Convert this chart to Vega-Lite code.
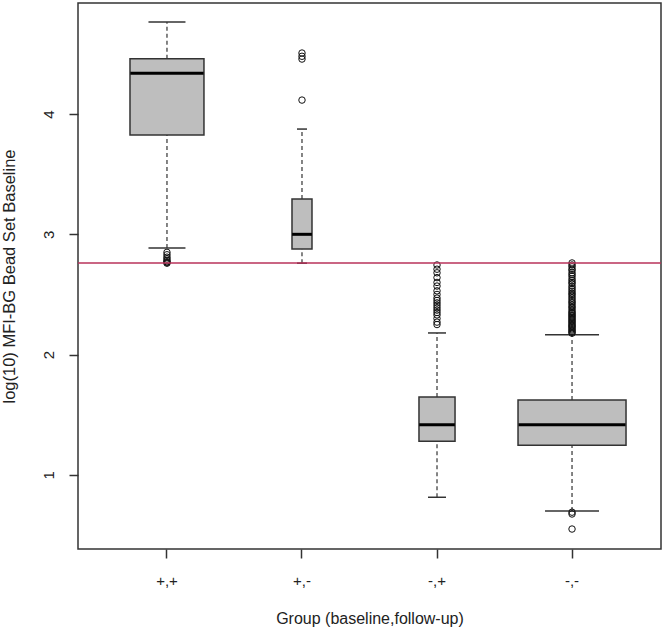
{
  "$schema": "https://vega.github.io/schema/vega-lite/v6.json",
  "width": 583,
  "height": 546,
  "autosize": {"type": "none"},
  "padding": {"left": 78, "top": 3, "right": 5, "bottom": 84},
  "background": "white",
  "config": {
    "view": {"stroke": "#333333", "strokeWidth": 1.5},
    "font": "Liberation Sans",
    "axis": {
      "domain": false,
      "grid": false,
      "tickColor": "#333333",
      "tickWidth": 1.5,
      "tickSize": 9,
      "labelFontSize": 15,
      "labelColor": "#222222",
      "titleFontSize": 16.5,
      "titleFontWeight": "normal",
      "titleColor": "#222222"
    }
  },
  "datasets": {
    "boxes": [
      {"group": "+,+", "lo": 2.886, "q1": 3.825, "median": 4.34, "q3": 4.46, "hi": 4.765, "n": 547},
      {"group": "+,-", "lo": 2.76, "q1": 2.878, "median": 3.0, "q3": 3.293, "hi": 3.875, "n": 40},
      {"group": "-,+", "lo": 0.814, "q1": 1.28, "median": 1.417, "q3": 1.647, "hi": 2.18, "n": 130},
      {"group": "-,-", "lo": 0.70, "q1": 1.246, "median": 1.417, "q3": 1.623, "hi": 2.165, "n": 1166}
    ],
    "outliers": [
      {"group": "+,+", "value": 2.76}, {"group": "+,+", "value": 2.765}, {"group": "+,+", "value": 2.772},
      {"group": "+,+", "value": 2.781}, {"group": "+,+", "value": 2.795}, {"group": "+,+", "value": 2.81},
      {"group": "+,+", "value": 2.83}, {"group": "+,+", "value": 2.85},
      {"group": "+,-", "value": 4.116}, {"group": "+,-", "value": 4.457}, {"group": "+,-", "value": 4.48}, {"group": "+,-", "value": 4.507},
      {"group": "-,+", "value": 2.745}, {"group": "-,+", "value": 2.71}, {"group": "-,+", "value": 2.68},
      {"group": "-,+", "value": 2.64}, {"group": "-,+", "value": 2.6}, {"group": "-,+", "value": 2.57},
      {"group": "-,+", "value": 2.53}, {"group": "-,+", "value": 2.5}, {"group": "-,+", "value": 2.47},
      {"group": "-,+", "value": 2.45}, {"group": "-,+", "value": 2.43}, {"group": "-,+", "value": 2.41},
      {"group": "-,+", "value": 2.39}, {"group": "-,+", "value": 2.37}, {"group": "-,+", "value": 2.35},
      {"group": "-,+", "value": 2.33}, {"group": "-,+", "value": 2.3}, {"group": "-,+", "value": 2.27},
      {"group": "-,+", "value": 2.25},
      {"group": "-,-", "value": 2.762}, {"group": "-,-", "value": 2.745}, {"group": "-,-", "value": 2.73},
      {"group": "-,-", "value": 2.71}, {"group": "-,-", "value": 2.7}, {"group": "-,-", "value": 2.68},
      {"group": "-,-", "value": 2.665}, {"group": "-,-", "value": 2.65}, {"group": "-,-", "value": 2.63},
      {"group": "-,-", "value": 2.615}, {"group": "-,-", "value": 2.6}, {"group": "-,-", "value": 2.59},
      {"group": "-,-", "value": 2.57}, {"group": "-,-", "value": 2.555}, {"group": "-,-", "value": 2.54},
      {"group": "-,-", "value": 2.525}, {"group": "-,-", "value": 2.51}, {"group": "-,-", "value": 2.5},
      {"group": "-,-", "value": 2.485}, {"group": "-,-", "value": 2.47}, {"group": "-,-", "value": 2.455},
      {"group": "-,-", "value": 2.44}, {"group": "-,-", "value": 2.43}, {"group": "-,-", "value": 2.415},
      {"group": "-,-", "value": 2.4}, {"group": "-,-", "value": 2.39}, {"group": "-,-", "value": 2.375},
      {"group": "-,-", "value": 2.36}, {"group": "-,-", "value": 2.35}, {"group": "-,-", "value": 2.34},
      {"group": "-,-", "value": 2.33}, {"group": "-,-", "value": 2.32}, {"group": "-,-", "value": 2.31},
      {"group": "-,-", "value": 2.3}, {"group": "-,-", "value": 2.29}, {"group": "-,-", "value": 2.28},
      {"group": "-,-", "value": 2.27}, {"group": "-,-", "value": 2.26}, {"group": "-,-", "value": 2.25},
      {"group": "-,-", "value": 2.24}, {"group": "-,-", "value": 2.235}, {"group": "-,-", "value": 2.225},
      {"group": "-,-", "value": 2.215}, {"group": "-,-", "value": 2.205}, {"group": "-,-", "value": 2.195},
      {"group": "-,-", "value": 2.185}, {"group": "-,-", "value": 2.178},
      {"group": "-,-", "value": 0.69}, {"group": "-,-", "value": 0.675}, {"group": "-,-", "value": 0.55}
    ],
    "threshold": [{"cutoff": 2.761}]
  },
  "layer": [
    {
      "data": {"name": "boxes"},
      "mark": {"type": "rule", "color": "#333333", "strokeWidth": 1.2, "strokeDash": [4, 3]},
      "encoding": {
        "x": {
          "field": "group",
          "type": "nominal",
          "sort": ["+,+", "+,-", "-,+", "-,-"],
          "scale": {"type": "band", "paddingInner": 0, "paddingOuter": 0.159},
          "title": "Group (baseline,follow-up)",
          "axis": {"labelAngle": 0, "labelPadding": 15, "titlePadding": 22, "titleFontSize": 16}
        },
        "y": {"field": "q3", "type": "quantitative", "scale": {"domain": [0.384, 4.923], "nice": false, "zero": false},
          "title": "log(10) MFI-BG Bead Set Baseline",
          "axis": {"values": [1, 2, 3, 4], "format": "d", "labelAngle": 270, "labelAlign": "center", "labelBaseline": "alphabetic", "labelPadding": 16, "titlePadding": 24}},
        "y2": {"field": "hi"}
      }
    },
    {
      "data": {"name": "boxes"},
      "mark": {"type": "rule", "color": "#333333", "strokeWidth": 1.2, "strokeDash": [4, 3]},
      "encoding": {
        "x": {"field": "group", "type": "nominal", "sort": ["+,+", "+,-", "-,+", "-,-"], "title": "Group (baseline,follow-up)"},
        "y": {"field": "lo", "type": "quantitative", "title": "log(10) MFI-BG Bead Set Baseline"},
        "y2": {"field": "q1"}
      }
    },
    {
      "data": {"name": "boxes"},
      "mark": {"type": "tick", "color": "#333333", "thickness": 1.5, "opacity": 1},
      "encoding": {
        "x": {"field": "group", "type": "nominal", "sort": ["+,+", "+,-", "-,+", "-,-"], "title": "Group (baseline,follow-up)"},
        "y": {"field": "hi", "type": "quantitative", "title": "log(10) MFI-BG Bead Set Baseline"},
        "size": {"field": "n", "type": "quantitative", "scale": {"type": "sqrt", "domain": [0, 1166], "range": [0, 54]}, "legend": null}
      }
    },
    {
      "data": {"name": "boxes"},
      "mark": {"type": "tick", "color": "#333333", "thickness": 1.5, "opacity": 1},
      "encoding": {
        "x": {"field": "group", "type": "nominal", "sort": ["+,+", "+,-", "-,+", "-,-"], "title": "Group (baseline,follow-up)"},
        "y": {"field": "lo", "type": "quantitative", "title": "log(10) MFI-BG Bead Set Baseline"},
        "size": {"field": "n", "type": "quantitative", "scale": {"type": "sqrt", "domain": [0, 1166], "range": [0, 54]}, "legend": null}
      }
    },
    {
      "data": {"name": "boxes"},
      "mark": {"type": "bar", "fill": "#bebebe", "stroke": "#333333", "strokeWidth": 1.5},
      "encoding": {
        "x": {"field": "group", "type": "nominal", "sort": ["+,+", "+,-", "-,+", "-,-"], "title": "Group (baseline,follow-up)"},
        "y": {"field": "q1", "type": "quantitative", "title": "log(10) MFI-BG Bead Set Baseline"},
        "y2": {"field": "q3"},
        "size": {"field": "n", "type": "quantitative", "scale": {"type": "sqrt", "domain": [0, 1166], "range": [0, 108]}, "legend": null}
      }
    },
    {
      "data": {"name": "boxes"},
      "mark": {"type": "tick", "color": "#000000", "thickness": 3, "opacity": 1},
      "encoding": {
        "x": {"field": "group", "type": "nominal", "sort": ["+,+", "+,-", "-,+", "-,-"], "title": "Group (baseline,follow-up)"},
        "y": {"field": "median", "type": "quantitative", "title": "log(10) MFI-BG Bead Set Baseline"},
        "size": {"field": "n", "type": "quantitative", "scale": {"type": "sqrt", "domain": [0, 1166], "range": [0, 107]}, "legend": null}
      }
    },
    {
      "data": {"name": "outliers"},
      "mark": {"type": "point", "shape": "circle", "filled": false, "stroke": "#111111", "strokeWidth": 1, "size": 42, "opacity": 1},
      "encoding": {
        "x": {"field": "group", "type": "nominal", "sort": ["+,+", "+,-", "-,+", "-,-"], "title": "Group (baseline,follow-up)"},
        "y": {"field": "value", "type": "quantitative", "title": "log(10) MFI-BG Bead Set Baseline"}
      }
    },
    {
      "data": {"name": "threshold"},
      "mark": {"type": "rule", "color": "#b8325a", "strokeWidth": 1.6},
      "encoding": {
        "y": {"field": "cutoff", "type": "quantitative", "title": "log(10) MFI-BG Bead Set Baseline"}
      }
    }
  ],
  "resolve": {"scale": {"size": "independent"}}
}
